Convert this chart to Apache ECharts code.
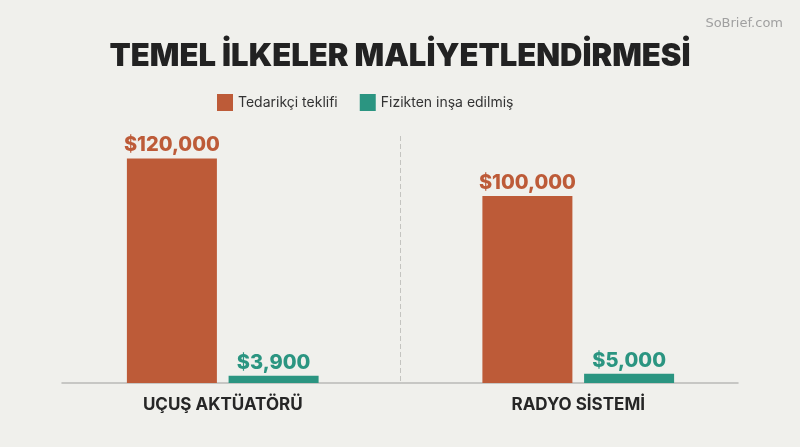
<!DOCTYPE html>
<html>
<head>
<meta charset="utf-8">
<script src="https://cdn.jsdelivr.net/npm/echarts@6/dist/echarts.min.js"></script>
<style>
  html, body { margin: 0; padding: 0; background: #f0f0ec; }
  #chart { width: 800px; height: 447px; }
</style>
</head>
<body>
<div id="chart"></div>
<script>
const categories = ['UÇUŞ AKTÜATÖRÜ', 'RADYO SİSTEMİ']
const seriesNames = ['Tedarikçi teklifi', 'Fizikten inşa edilmiş']
const supplierQuote = [120000, 100000]
const builtFromPhysics = [3900, 5000]

const orange = '#bd5b38'
const teal = '#2b9581'
const font = 'Inter, "Noto Sans", sans-serif'

const fmt = (v) => '$' + v.toLocaleString('en-US')

const chart = echarts.init(document.getElementById('chart'))
chart.setOption({
  backgroundColor: '#f0f0ec',
  title: [{
    text: 'TEMEL İLKELER MALİYETLENDİRMESİ',
    left: 'center',
    top: 36,
    textStyle: { fontFamily: font, fontSize: 31, fontWeight: 900, color: '#222' },
  }, {
    text: 'SoBrief.com',
    right: 12,
    top: 12,
    textStyle: { fontFamily: '"DejaVu Sans", sans-serif', fontSize: 13, fontWeight: 'normal', color: '#a0a0a0' },
  }],
  legend: {
    top: 89,
    left: 212,
    itemWidth: 16,
    itemHeight: 17,
    itemGap: 22,
    icon: 'rect',
    textStyle: { fontFamily: font, fontSize: 14, color: '#333' },
    data: seriesNames,
  },
  grid: [
    { left: 45, right: 44, top: 136, bottom: 64 },
    { left: 62, right: 62, top: 136, bottom: 64 },
  ],
  xAxis: [{
    type: 'category',
    gridIndex: 0,
    data: categories,
    axisLine: { show: false },
    axisTick: { show: false },
    axisLabel: { margin: 13, fontFamily: font, fontSize: 17, fontWeight: 'bold', color: '#262626' },
    splitLine: {
      show: true,
      lineStyle: { color: ['transparent', '#c4c4c0', 'transparent'], type: [5, 3], width: 1 },
    },
  }, {
    type: 'category',
    gridIndex: 1,
    data: categories,
    axisLine: { show: true, lineStyle: { color: '#b9b9b6', width: 1.5 } },
    axisTick: { show: false },
    axisLabel: { show: false },
  }],
  yAxis: [{
    type: 'value',
    gridIndex: 0,
    min: 0,
    max: 132000,
    show: false,
    splitLine: { show: false },
  }, {
    type: 'value',
    gridIndex: 1,
    min: 0,
    max: 132000,
    show: false,
    splitLine: { show: false },
  }],
  series: [{
    name: seriesNames[0],
    type: 'bar',
    data: supplierQuote,
    barWidth: 90,
    barGap: '13%',
    itemStyle: { color: orange },
    label: {
      show: true, position: 'top', distance: 3,
      formatter: (p) => fmt(p.value),
      fontFamily: font, fontSize: 20, fontWeight: 800, color: orange,
    },
  }, {
    name: seriesNames[1],
    type: 'bar',
    data: builtFromPhysics,
    barWidth: 90,
    itemStyle: { color: teal },
    label: {
      show: true, position: 'top', distance: 3,
      formatter: (p) => fmt(p.value),
      fontFamily: font, fontSize: 20, fontWeight: 800, color: teal,
    },
  }],
})
</script>
</body>
</html>
